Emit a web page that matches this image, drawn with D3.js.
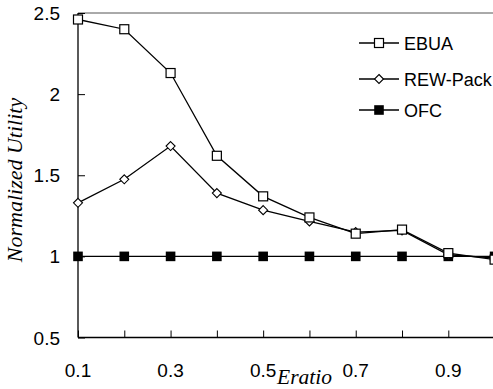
<!DOCTYPE html>
<html><head><meta charset="utf-8">
<script src="https://cdn.jsdelivr.net/npm/d3@7"></script>
<style>body{margin:0;background:#fff}svg{display:block}</style>
</head><body>
<script>
const xValues = [0.1,0.2,0.3,0.4,0.5,0.6,0.7,0.8,0.9,1.0];
const ebua    = [2.46,2.40,2.13,1.62,1.37,1.24,1.14,1.165,1.02,0.98];
const rewPack = [1.33,1.475,1.68,1.39,1.285,1.215,1.15,1.16,1.01,0.99];
const ofc     = [1,1,1,1,1,1,1,1,1,1];
const xTickLabels = [0.1,0.3,0.5,0.7,0.9];
const yTickLabels = [0.5,1,1.5,2,2.5];
const seriesNames = ["EBUA","REW-Pack","OFC"];

const W=493,H=389;
const svg=d3.select("body").append("svg").attr("width",W).attr("height",H);
const x=d3.scaleLinear().domain([0.1,1.0]).range([78,494.6]);
const y=d3.scaleLinear().domain([0.5,2.5]).range([337.5,13]);

// top border
svg.append("line").attr("x1",78).attr("x2",W).attr("y1",y(2.5)).attr("y2",y(2.5))
  .attr("stroke","#555").attr("stroke-width",1);

// axes
const xAxis=svg.append("g").attr("transform",`translate(0,${y(0.5)})`)
  .call(d3.axisBottom(x).tickValues(xValues.slice(0,9)).tickSize(-7).tickFormat(()=>""));
xAxis.select(".domain").attr("d",`M${x(0.1)},0H${W}`).attr("stroke","#000").attr("stroke-width",1.3);
xAxis.selectAll(".tick line").attr("stroke","#000");
const yAxis=svg.append("g").attr("transform",`translate(${x(0.1)},0)`)
  .call(d3.axisLeft(y).tickValues(yTickLabels).tickSize(-7).tickFormat(()=>""));
yAxis.select(".domain").attr("d",`M0,${y(2.5)}V${y(0.5)}`).attr("stroke","#000").attr("stroke-width",1.3);
yAxis.selectAll(".tick line").attr("stroke","#000");

// tick labels
svg.append("g").selectAll("text").data(xTickLabels).join("text")
  .attr("x",d=>x(d)).attr("y",377).attr("text-anchor","middle")
  .attr("font-family","Liberation Sans, Arial, sans-serif").attr("font-size",19)
  .text(d=>d3.format(".1f")(d));
svg.append("g").selectAll("text").data(yTickLabels).join("text")
  .attr("x",60).attr("y",d=>y(d)+7).attr("text-anchor","end")
  .attr("font-family","Liberation Sans, Arial, sans-serif").attr("font-size",19)
  .text(d=>d);

// axis titles
svg.append("text").attr("transform","translate(22,180) rotate(-90)").attr("text-anchor","middle")
  .attr("font-family","Liberation Serif, Times New Roman, serif").attr("font-style","italic").attr("font-size",22)
  .text("Normalized Utility");
svg.append("text").attr("x",277).attr("y",384)
  .attr("font-family","Liberation Serif, Times New Roman, serif").attr("font-style","italic").attr("font-size",21.5)
  .text("Eratio");

const line=d3.line().x((d,i)=>x(xValues[i])).y(d=>y(d));
const data=[ofc,rewPack,ebua];
const kinds=["fsq","dia","sq"];
function marker(g,kind,cx,cy){
  if(kind==="sq") g.append("rect").attr("x",cx-4.5).attr("y",cy-4.5).attr("width",9).attr("height",9)
     .attr("fill","#fff").attr("stroke","#000").attr("stroke-width",1.2);
  else if(kind==="fsq") g.append("rect").attr("x",cx-4.8).attr("y",cy-4.8).attr("width",9.6).attr("height",9.6)
     .attr("fill","#000");
  else g.append("path").attr("d",`M${cx},${cy-4.5}L${cx+4.5},${cy}L${cx},${cy+4.5}L${cx-4.5},${cy}Z`)
     .attr("fill","#fff").attr("stroke","#000").attr("stroke-width",1.1);
}
data.forEach((s,k)=>{
  svg.append("path").datum(s).attr("d",line).attr("fill","none").attr("stroke","#000").attr("stroke-width",1.3);
});
data.forEach((s,k)=>{
  const g=svg.append("g");
  s.forEach((v,i)=>marker(g,kinds[k],x(xValues[i]),y(v)));
});

// legend
const legKinds=["sq","dia","fsq"];
const legY=[43,79,110];
seriesNames.forEach((n,i)=>{
  const g=svg.append("g");
  g.append("line").attr("x1",359).attr("x2",399).attr("y1",legY[i]).attr("y2",legY[i]).attr("stroke","#000").attr("stroke-width",1.3);
  marker(g,legKinds[i],379,legY[i]);
  g.append("text").attr("x",404).attr("y",legY[i]+6.5).attr("font-family","Liberation Sans, Arial, sans-serif")
   .attr("font-size",18).text(n);
});
</script>
</body></html>
